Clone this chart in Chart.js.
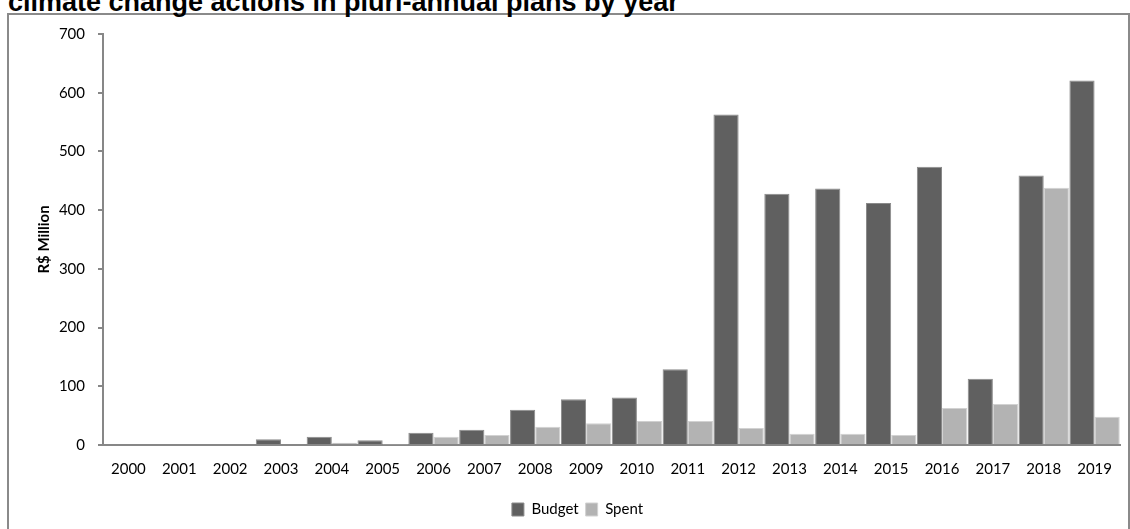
<!DOCTYPE html>
<html>
<head>
<meta charset="utf-8">
<script src="https://cdn.jsdelivr.net/npm/chart.js@4.4.1/dist/chart.umd.min.js"></script>
<style>
    html, body { margin: 0; padding: 0; background: #fff; overflow: hidden; }
    #wrap { position: relative; width: 1130px; height: 529px; overflow: hidden; }
    #title {
        position: absolute; left: 8px; top: -11px;
        font: bold 27px "Liberation Sans", Arial, sans-serif;
        line-height: 27px; color: #000; white-space: nowrap;
    }
    #frame {
        position: absolute; left: 7px; top: 13px; width: 1119px; height: 600px;
        border: 2px solid #8a8a8a;
    }
    #chartBox { position: absolute; left: 0; top: 0; width: 1130px; height: 529px; }
</style>
</head>
<body>
<div id="wrap">
    <div id="frame"></div>
    <div id="title">climate change actions in pluri-annual plans by year</div>
    <div id="chartBox"><canvas id="budgetChart"></canvas></div>
</div>
<script>
// Climate change budget vs. amount spent, R$ million
const years = ['2000', '2001', '2002', '2003', '2004', '2005', '2006', '2007', '2008', '2009',
               '2010', '2011', '2012', '2013', '2014', '2015', '2016', '2017', '2018', '2019'];
const budget = [0, 0, 0, 10, 14, 8, 21, 26, 60, 78, 81, 129, 563, 428, 437, 412, 474, 113, 459, 621];
const spent = [0, 0, 0, 0, 4, 1, 14, 17, 31, 37, 41, 41, 29, 19, 19, 17, 63, 70, 438, 48];
const yTicks = [0, 100, 200, 300, 400, 500, 600, 700];

const axisGray = '#878787';
const labelFont = { family: 'Lato', size: 15 };

const ctx = document.getElementById('budgetChart').getContext('2d');
const budgetChart = new Chart(ctx, {
    type: 'bar',
    data: {
        labels: years,
        datasets: [{
            label: 'Budget',
            data: budget,
            backgroundColor: '#606060',
            borderColor: '#8a8a8a',
            borderWidth: 1,
            barPercentage: 1.0,
            categoryPercentage: 0.99
        }, {
            label: 'Spent',
            data: spent,
            backgroundColor: '#b3b3b3',
            borderColor: '#d2d2d2',
            borderWidth: 1,
            barPercentage: 1.0,
            categoryPercentage: 0.99
        }]
    },
    options: {
        responsive: true,
        maintainAspectRatio: false,
        animation: false,
        layout: {
            padding: { top: 34, right: 10, left: 35, bottom: 2 }
        },
        scales: {
            y: {
                min: yTicks[0],
                max: yTicks[yTicks.length - 1],
                afterFit: scale => { scale.width = 68; },
                afterBuildTicks: scale => { scale.ticks = yTicks.map(v => ({ value: v })); },
                border: { display: true, color: axisGray, width: 2 },
                grid: {
                    drawOnChartArea: false,
                    drawTicks: true,
                    tickLength: 5,
                    color: axisGray,
                    lineWidth: 2
                },
                ticks: {
                    color: '#000',
                    font: labelFont,
                    padding: 13
                },
                title: {
                    display: true,
                    text: 'R$ Million',
                    color: '#000',
                    padding: 0,
                    font: { family: 'Lato', size: 15, weight: 'bold' }
                }
            },
            x: {
                afterFit: scale => { scale.height = 50; },
                border: { display: true, color: axisGray, width: 2 },
                grid: { display: false, drawTicks: false },
                ticks: {
                    color: '#000',
                    font: labelFont,
                    padding: 15,
                    maxRotation: 0,
                    autoSkip: false
                }
            }
        },
        plugins: {
            legend: {
                position: 'bottom',
                labels: {
                    color: '#000',
                    font: labelFont,
                    boxWidth: 12,
                    boxHeight: 13,
                    padding: 7
                }
            },
            tooltip: { enabled: false }
        }
    }
});
</script>
</body>
</html>
